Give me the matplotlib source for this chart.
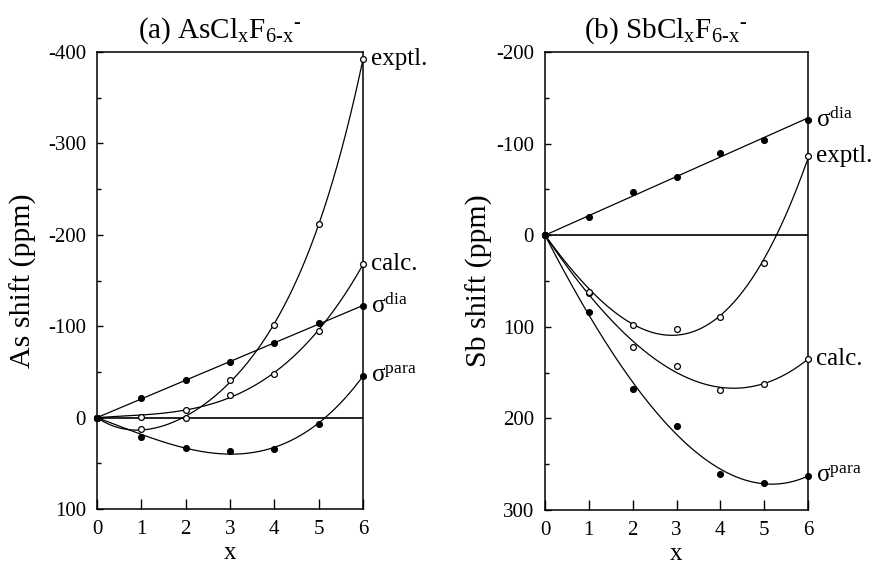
import numpy as np
import matplotlib
matplotlib.use("Agg")
import matplotlib.pyplot as plt
from matplotlib.ticker import MultipleLocator

plt.rcParams['font.family'] = ['Liberation Serif', 'DejaVu Serif']
plt.rcParams['mathtext.fontset'] = 'custom'
plt.rcParams['mathtext.rm'] = 'Liberation Serif'
plt.rcParams['mathtext.it'] = 'Liberation Serif:italic'
plt.rcParams['axes.unicode_minus'] = False

# number of Cl atoms
x = np.array([0, 1, 2, 3, 4, 5, 6])

# (a) AsClxF6-x-  shifts in ppm
as_exptl = [0, 13, 0, -41, -101, -212, -392]
as_calc = [0, -1, -8, -25, -48, -95, -168]
as_dia = [0, -21, -41, -61, -82, -103, -122]
as_para = [0, 21, 33, 37, 34, 7, -46]

# (b) SbClxF6-x-  shifts in ppm
sb_dia = [0, -20, -47, -64, -90, -104, -126]
sb_exptl = [0, 63, 98, 102, 89, 30, -86]
sb_calc = [0, 62, 122, 143, 169, 162, 135]
sb_para = [0, 84, 168, 208, 261, 270, 263]

as_yticks = [-400, -300, -200, -100, 0, 100]
sb_yticks = [-200, -100, 0, 100, 200, 300]


def smooth(vals, deg):
    # least squares polynomial through the origin
    vals = np.asarray(vals, dtype=float)
    A = np.vstack([x ** k for k in range(1, deg + 1)]).T
    coef = np.linalg.lstsq(A, vals, rcond=None)[0]
    xs = np.linspace(0, 6, 300)
    ys = sum(c * xs ** (k + 1) for k, c in enumerate(coef))
    return xs, ys


def panel(ax, series, yticks, title, ylabel, ylabel_x):
    ax.axhline(0, color='black', lw=1.2, zorder=1)
    for vals, filled, deg, label in series:
        xs, ys = smooth(vals, deg)
        ax.plot(xs, ys, color='black', lw=0.9, zorder=2)
        ax.plot(x, vals, 'o', ms=4.2, mec='black', mew=0.9,
                mfc='black' if filled else 'white', clip_on=False, zorder=3)
        ax.text(6.18, vals[-1], label, ha='left', va='center', fontsize=18,
                clip_on=False)

    ax.set_xlim(0, 6)
    ax.set_ylim(yticks[-1], yticks[0])
    ax.set_xticks(x)
    ax.set_yticks(yticks)
    ax.yaxis.set_minor_locator(MultipleLocator(50))
    ax.tick_params(axis='x', direction='in', length=7, width=1, labelsize=15, pad=8)
    ax.tick_params(axis='y', which='major', direction='in', length=4.5, width=1,
                   labelsize=15, pad=8)
    ax.tick_params(axis='y', which='minor', direction='in', length=3, width=1)
    for s in ax.spines.values():
        s.set_linewidth(1.1)

    ax.set_title(title, fontsize=21, x=0.46, pad=10)
    ax.set_xlabel('x', fontsize=18, labelpad=2)
    ax.set_ylabel(ylabel, fontsize=21.5)
    ax.yaxis.set_label_coords(ylabel_x, 0.5)


fig = plt.figure(figsize=(8.8, 5.66), dpi=100)
ax1 = fig.add_axes([97 / 880, 1 - 509 / 566, 266 / 880, 457 / 566])
ax2 = fig.add_axes([545 / 880, 1 - 510 / 566, 263 / 880, 458 / 566])

panel(ax1,
      [(as_exptl, False, 4, 'exptl.'),
       (as_calc, False, 3, 'calc.'),
       (as_dia, True, 1, 'σ$^{\\mathrm{dia}}$'),
       (as_para, True, 3, 'σ$^{\\mathrm{para}}$')],
      as_yticks, '(a) AsCl$_{\\mathrm{x}}$F$_{\\mathrm{6\\text{-}x}}$$^{\\text{-}}$',
      'As shift (ppm)', -0.225)

panel(ax2,
      [(sb_dia, True, 1, 'σ$^{\\mathrm{dia}}$'),
       (sb_exptl, False, 3, 'exptl.'),
       (sb_calc, False, 3, 'calc.'),
       (sb_para, True, 3, 'σ$^{\\mathrm{para}}$')],
      sb_yticks, '(b) SbCl$_{\\mathrm{x}}$F$_{\\mathrm{6\\text{-}x}}$$^{\\text{-}}$',
      'Sb shift (ppm)', -0.198)

fig.savefig('out.png', dpi=100)
